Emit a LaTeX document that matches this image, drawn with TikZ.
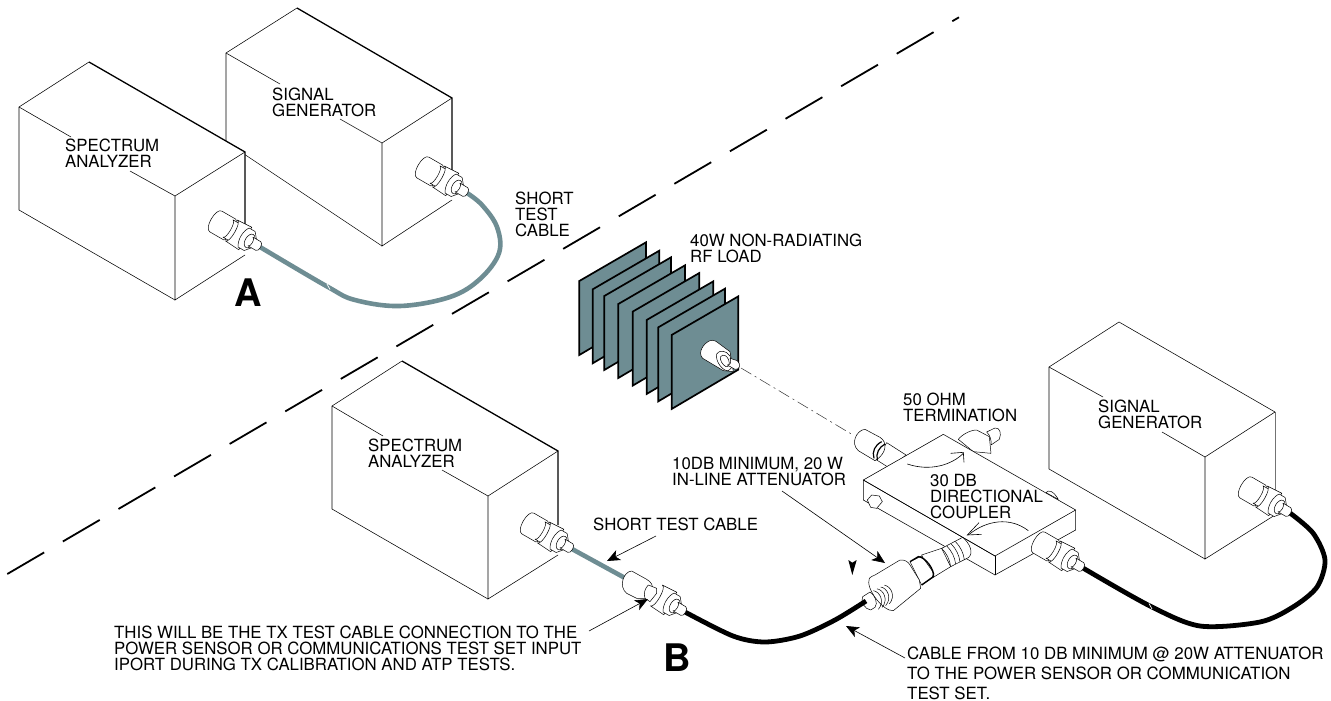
\documentclass[tikz,border=0pt]{standalone}
\usepackage{fontspec}
\setmainfont{TeX Gyre Heros}
\usetikzlibrary{arrows.meta}
\definecolor{teal}{HTML}{6E8D93}
\newcommand{\connfrontshape}{%
    \draw[part] (-33,-12) -- (-17,-13) -- (-17,13) -- (-33,12) .. controls (-28,12) and (-28,-12) .. (-33,-12) -- cycle;
    \draw[part] (-19,-11) -- (-12,-11) -- (-7,-5) -- (-7,5) -- (-12,11) -- (-19,11) .. controls (-23,5) and (-23,-5) .. (-19,-11) -- cycle;
    \draw[part] (-12,0) ellipse[x radius=4.5,y radius=7.5];
    \draw[part] (-11,-5) -- (-2,-5) .. controls (1.5,-5) and (1.5,5) .. (-2,5) -- (-11,5) .. controls (-8,5) and (-8,-5) .. (-11,-5) -- cycle;
}
\tikzset{
  thin line/.style={line width=.55pt,black},
  heavy line/.style={line width=1.3pt,black},
  boxface/.style={fill=white,draw=none},
  lbl/.style={anchor=north west,inner sep=0pt,align=left,text=black,font=\fontsize{16.8}{16}\selectfont},
  lblb/.style={lbl,font=\fontsize{16.85}{20}\selectfont},
  big/.style={anchor=north west,inner sep=0pt,font=\fontsize{38}{38}\selectfont\bfseries},
  leader/.style={line width=.6pt,-{Stealth[length=13pt,width=11pt,inset=3.5pt]}},
  greycable/.style={line width=4.6pt,teal},
  blackcable/.style={line width=4.8pt,black},
  fin/.style={fill=teal,draw=black,line width=1.7pt,line join=miter},
  part/.style={fill=white,draw=black,line width=.5pt,line join=round},
  conn/.pic={
    \draw[part] (-51,-12) -- (-35,-12) .. controls (-31,-12) and (-31,12) .. (-35,12) -- (-51,12) .. controls (-58,12) and (-58,-12) .. (-51,-12) -- cycle;
    \draw[part] (-37,-10) -- (-30,-10) .. controls (-26,-10) and (-26,10) .. (-30,10) -- (-37,10) .. controls (-33,10) and (-33,-10) .. (-37,-10) -- cycle;
    \connfrontshape
  },
  connfront/.pic={\connfrontshape},
}
\begin{document}
\begin{tikzpicture}[x=1pt,y=-1pt]
\useasboundingbox (0,0) rectangle (1331,701);
\fill[white] (0,0) rectangle (1331,701);

% dividing line
\coordinate (divA) at (7.3,574);
\coordinate (divB) at (959,17.3);
\draw[line width=1.8pt,dash pattern=on 42.7pt off 21.7pt] (divA) -- (divB);

% ---------- A: signal generator
\coordinate (a1) at (226,53); \coordinate (a2) at (297,8); \coordinate (a3) at (452,98);
\coordinate (a4) at (382,143); \coordinate (a5) at (382,246); \coordinate (a6) at (452,200); \coordinate (a7) at (226,142);
\fill[boxface] (a1) -- (a2) -- (a3) -- (a6) -- (a5) -- (a7) -- cycle;
\draw[thin line] (a7) -- (a1) -- (a2);
\draw[heavy line] (a2) -- (a3) -- (452,175);
\draw[thin line] (a3) -- (a4) -- (a5) -- (a6);
\draw[thin line] (a7) -- (a5);
\draw[thin line] (a1) -- (280,84) (340,119) -- (a4);
% ---------- A: spectrum analyzer
\coordinate (b1) at (19,107); \coordinate (b2) at (89,62); \coordinate (b3) at (245,152);
\coordinate (b4) at (175,196); \coordinate (b5) at (175,300); \coordinate (b6) at (245,255); \coordinate (b7) at (19,210);
\fill[boxface] (b1) -- (b2) -- (b3) -- (b6) -- (b5) -- (b7) -- cycle;
\draw[thin line] (b7) -- (b1) -- (b2);
\draw[heavy line] (b2) -- (b3) -- (245,225);
\draw[thin line] (b3) -- (b4) -- (b5) -- (b6);
\draw[thin line] (b7) -- (b5);
\draw[thin line] (b1) -- (71,137) (130,171) -- (b4);

% A cable
\coordinate (tipA1) at (260,247); \coordinate (tipA2) at (467,193);
\draw[greycable] plot[smooth,tension=.6] coordinates {(tipA1) (328,287) (355,300) (400,306) (450,297) (480,279) (499,253) (497,227) (482,205) (tipA2)};
\draw[white,line width=.7pt] (327,284) -- (330,289.5);
\pic[rotate=-30] at (tipA1) {conn};
\pic[rotate=-30] at (tipA2) {conn};

% ---------- B: spectrum analyzer
\coordinate (c1) at (332,406); \coordinate (c2) at (402,361); \coordinate (c3) at (558,451);
\coordinate (c4) at (488,496); \coordinate (c5) at (488,599); \coordinate (c6) at (558,555); \coordinate (c7) at (332,509);
\fill[boxface] (c1) -- (c2) -- (c3) -- (c6) -- (c5) -- (c7) -- cycle;
\draw[thin line] (c7) -- (c1) -- (c2);
\draw[heavy line] (c2) -- (c3) -- (558,525);
\draw[thin line] (c3) -- (c4) -- (c5) -- (c6);
\draw[thin line] (c7) -- (c5);
\draw[thin line] (c1) -- (383,436) (442,470) -- (c4);

% ---------- B: signal generator
\coordinate (d1) at (1049,367); \coordinate (d2) at (1119,322); \coordinate (d3) at (1275,412);
\coordinate (d4) at (1205,457); \coordinate (d5) at (1205,559); \coordinate (d6) at (1275,515); \coordinate (d7) at (1049,469);
\fill[boxface] (d1) -- (d2) -- (d3) -- (d6) -- (d5) -- (d7) -- cycle;
\draw[thin line] (d7) -- (d1) -- (d2) -- (d3);
\draw[line width=.8pt,black!55] (d3) -- (1275,490);
\draw[thin line] (d3) -- (d4) -- (d5) -- (d6);
\draw[thin line] (d7) -- (d5);
\draw[thin line] (d1) -- (1103,397) (1162,432) -- (d4);

% ---------- heat sink
\begin{scope}[shift={(560,230)},x=.3333pt,y=-.3333pt]
\foreach \u/\v in {58/153,98/178,133/198,175/222,218/245,260/270,295/292,335/315}{
  \draw[fin] (\u,\v) -- ++(200,-116) -- ++(0,220) -- ++(-200,118) -- cycle;
}
\draw[part] (450,332) .. controls (430,340) and (412,368) .. (428,385) -- (490,422) -- (520,425) -- (510,365) -- (468,334) .. controls (462,330) and (455,330) .. (450,332) -- cycle;
\draw[part] (470,372) .. controls (478,358) and (500,362) .. (510,378) .. controls (520,395) and (520,415) .. (505,422) .. controls (490,425) and (465,395) .. (470,372) -- cycle;
\draw[part] (482,380) .. controls (490,370) and (502,378) .. (506,390) .. controls (510,402) and (508,412) .. (498,410) .. controls (488,405) and (478,390) .. (482,380) -- cycle;
\draw[part] (510,385) -- (532,392) .. controls (545,405) and (538,420) .. (525,418) -- (502,405) .. controls (512,405) and (515,395) .. (510,385) -- cycle;
\end{scope}

% dash-dot centre line
\coordinate (ll1) at (741,368); \coordinate (ll2) at (853,435);
\draw[line width=.5pt,black!80,dash pattern=on 12pt off 4pt on 2pt off 4pt] (ll1) -- (ll2);

% ---------- coupler
\begin{scope}[shift={(830,400)},x=.3333pt,y=-.3333pt]
% left port
\draw[part] (170,128) -- (228,165) -- (180,205) -- (140,180) -- cycle;
\draw[part] (105,88) -- (150,112) .. controls (172,125) and (172,160) .. (135,182) -- (85,152) .. controls (60,130) and (80,90) .. (105,88) -- cycle;
\draw[line width=1.2pt] (155,125) .. controls (135,135) and (125,155) .. (132,175);
\draw[line width=1.2pt] (165,132) .. controls (147,142) and (137,160) .. (142,180);
% termination
\draw[part] (385,118) .. controls (395,105) and (420,90) .. (440,90) -- (478,110) -- (483,160) -- (430,155) -- cycle;
\draw[part] (470,96) -- (495,84) .. controls (510,82) and (515,100) .. (508,118) -- (483,135) .. controls (485,120) and (480,105) .. (470,96) -- cycle;
% right nub
\draw[part] (648,278) .. controls (655,268) and (670,272) .. (685,298) -- cycle;
% body
\fill[white] (100,240) -- (340,103) -- (737,330) -- (737,390) -- (495,525) -- (100,300) -- cycle;
\draw[thin line] (100,240) -- (340,103) -- (737,330) -- (495,468) -- cycle;
\draw[thin line] (100,240) -- (100,300) -- (495,525) -- (737,390) -- (737,330);
\draw[thin line] (495,468) -- (495,525);
\draw[part] (112,300) -- (125,285) -- (148,288) -- (157,305) -- (140,325) -- (122,322) -- cycle;
% arrows in coupler
\draw[line width=.6pt] (232,192) .. controls (300,215) and (365,195) .. (400,160);
\draw[line width=.6pt] (362,160) -- (400,157) -- (402,187);
\draw[line width=.6pt] (595,392) .. controls (540,350) and (470,360) .. (415,405);
\draw[line width=.6pt] (447,368) -- (412,405) -- (455,403);
\end{scope}

% ---------- attenuator
\begin{scope}[shift={(830,520)},x=.3333pt,y=-.3333pt]
\draw[part] (275,105) -- (335,85) -- (362,140) -- (305,175) -- cycle;
\draw[part] (335,85) -- (398,52) .. controls (420,70) and (432,100) .. (415,113) -- (362,140) .. controls (360,120) and (350,100) .. (335,85) -- cycle;
\foreach \d in {15,28,41}{
  \draw[line width=.5pt] (335+\d,85-\d*.5) .. controls (350+\d,100-\d*.5) and (360+\d,120-\d*.5) .. (362+\d,140-\d*.5);
}
\draw[part] (240,125) -- (275,108) -- (312,160) -- (305,175) -- (275,195) -- cycle;
\draw[line width=1.4pt] (240,125) -- (265,110) .. controls (285,110) and (315,150) .. (310,170) -- (275,195);
\draw[part] (135,165) -- (210,120) .. controls (222,118) and (235,125) .. (240,135) -- (268,180) -- (272,205) -- (190,272) .. controls (160,275) and (105,205) .. (118,175) .. controls (122,170) and (128,168) .. (135,165) -- cycle;
\foreach \d in {0,11,22,33}{
  \draw[line width=.5pt] (130+\d,212-\d*.5) .. controls (150+\d,215-\d*.5) and (165+\d,245-\d*.5) .. (145+\d,268-\d*.5);
}
\draw[part] (98,230) -- (120,216) .. controls (135,225) and (145,250) .. (135,262) -- (122,270) .. controls (105,268) and (90,245) .. (98,230) -- cycle;
\end{scope}
% redraw coupler front-left edge
\draw[thin line] (863.3,480) -- (995,556);

% ---------- cables B
\coordinate (tipB1) at (572,549); \coordinate (tipB2) at (625,578);
\coordinate (tipC1) at (685,612); \coordinate (tipC2) at (866,601);
\coordinate (tipD1) at (1083,568); \coordinate (tipD2) at (1290,513);
\draw[greycable] (tipB1) -- (tipB2);
\draw[blackcable] plot[smooth,tension=.5] coordinates {(tipC1) (733,636) (765,642) (800,636) (835,620) (tipC2)};
\draw[blackcable] plot[smooth,tension=.5] coordinates {(tipD1) (1150,606) (1200,626) (1260,622) (1293,607) (1317,587) (1325,560) (1313,533) (tipD2)};
\draw[white,line width=.7pt] (1149,603.5) -- (1152,609);
\pic[rotate=-30] at (tipB1) {conn};
\pic[rotate=-30] at (tipD1) {conn};
\pic[rotate=-30] at (tipD2) {conn};
% mated pair
\begin{scope}[shift={(500,490)},x=.3333pt,y=-.3333pt]
\draw[part] (395,243) -- (440,268) .. controls (470,285) and (455,310) .. (440,325) -- (410,325) -- (380,310) .. controls (355,290) and (370,245) .. (395,243) -- cycle;
\draw[part] (445,285) -- (470,295) -- (470,310) -- (450,335) -- (435,325) .. controls (430,310) and (435,295) .. (445,285) -- cycle;
\end{scope}
\pic[rotate=-30] at (tipC1) {connfront};

% arrowhead alone
\fill[black] (848.3,560) -- (852.3,562.7) -- (856.7,560) -- (852.3,575) -- cycle;

% leaders
\coordinate (s1) at (656,536); \coordinate (s2) at (607,561);
\draw[leader] (s1) -- (s2);
\coordinate (t1) at (589,631); \coordinate (t2) at (648,599);
\draw[leader] (t1) -- (t2);
\coordinate (u1) at (782,491); \coordinate (u2) at (885,563);
\draw[leader] (u1) -- (u2);
\coordinate (v1) at (905,658); \coordinate (v2) at (846,626);
\draw[leader] (v1) -- (v2);

% labels
\node[lbl] (n1) at (65,138.5) {SPECTRUM\\ANALYZER};
\node[lbl] (n2) at (272,87.5) {SIGNAL\\GENERATOR};
\node[lbl] (n3) at (515,192) {SHORT\\TEST\\CABLE};
\node[big] (n4) at (234,279) {A};
\node[lbl] (n5) at (690,233.5) {40W NON-RADIATING\\RF LOAD};
\node[lbl] (n6) at (368,438.5) {SPECTRUM\\ANALYZER};
\node[lbl] (n7) at (903,392.5) {50 OHM\\TERMINATION};
\node[lbl] (n8) at (1098,400) {SIGNAL\\GENERATOR};
\node[lbl] (n9) at (930,474.5) {30 DB\\DIRECTIONAL\\COUPLER};
\node[lbl] (n10) at (672,457.5) {10DB MINIMUM, 20 W\\IN-LINE ATTENUATOR};
\node[lbl] (n11) at (593,517.5) {SHORT TEST CABLE};
\node[lbl] (n12) at (114,626) {THIS WILL BE THE TX TEST CABLE CONNECTION TO THE\\POWER SENSOR OR COMMUNICATIONS TEST SET INPUT\\IPORT DURING TX CALIBRATION AND ATP TESTS.};
\node[big] (n13) at (663,644) {B};
\node[lblb] (n14) at (907,646.5) {CABLE FROM 10 DB MINIMUM @ 20W ATTENUATOR\\TO THE POWER SENSOR OR COMMUNICATION\\TEST SET.};
\end{tikzpicture}
\end{document}
